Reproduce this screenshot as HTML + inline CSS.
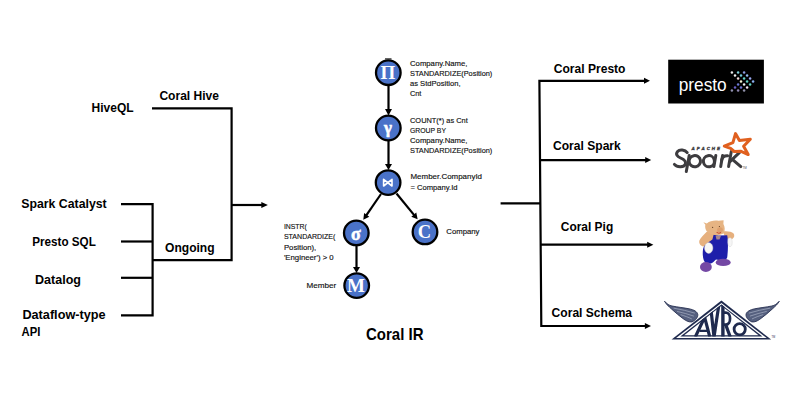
<!DOCTYPE html>
<html><head><meta charset="utf-8">
<style>
html,body{margin:0;padding:0;background:#fff;width:800px;height:400px;overflow:hidden}
svg{position:absolute;left:0;top:0;display:block}
.l{font-family:"Liberation Sans",sans-serif;font-weight:bold;font-size:13.5px;fill:#000}
.s{font-family:"Liberation Sans",sans-serif;font-size:7.8px;fill:#111;stroke:#111;stroke-width:0.15px}
.g{font-family:"Liberation Serif",serif;font-weight:bold;fill:#fff;text-anchor:middle}
</style></head>
<body>
<svg width="800" height="400" viewBox="0 0 800 400">
<defs>
<marker id="ah" markerWidth="6" markerHeight="6" refX="6" refY="3" orient="auto" markerUnits="userSpaceOnUse">
<path d="M0,0 L6,3 L0,6 z" fill="#000"/>
</marker>
</defs>
<rect width="800" height="400" fill="#fff"/>

<!-- left lines -->
<g stroke="#000" stroke-width="2.2" fill="none" stroke-linecap="butt">
<path d="M152,108.4 H231.6 V260.2 H152.6"/>
<path d="M121,204.2 H152.6 V315.3 H121"/>
<path d="M121,241.5 H152.6"/>
<path d="M121,277.8 H152.6"/>
<path d="M231.6,205 H262"/>
</g>
<path d="M261.3,201.9 L267.9,205 L261.3,208.1 z" fill="#000"/>

<!-- right lines -->
<g stroke="#000" stroke-width="2.2" fill="none">
<path d="M500.6,203.4 H540.2"/>
<path d="M645,80.8 H539.4 L541.3,326 H645"/>
<path d="M540,160.1 H646"/>
<path d="M540.6,244.7 H648"/>
</g>
<g fill="#000">
<path d="M644,77.8 L650,80.8 L644,83.8 z"/>
<path d="M645.2,157.1 L651.2,160.1 L645.2,163.1 z"/>
<path d="M647.2,241.7 L653.4,244.7 L647.2,247.7 z"/>
<path d="M644.9,323 L651,326 L644.9,329 z"/>
</g>

<!-- labels -->
<text class="l" x="91.6" y="111.6" textLength="42" lengthAdjust="spacingAndGlyphs">HiveQL</text>
<text class="l" x="159.4" y="100" textLength="59.6" lengthAdjust="spacingAndGlyphs">Coral Hive</text>
<text class="l" x="21.2" y="208.3" textLength="85.5" lengthAdjust="spacingAndGlyphs">Spark Catalyst</text>
<text class="l" x="32.2" y="245.8" textLength="63.6" lengthAdjust="spacingAndGlyphs">Presto SQL</text>
<text class="l" x="35" y="284.4" textLength="46" lengthAdjust="spacingAndGlyphs">Datalog</text>
<text class="l" x="22.4" y="319.4" textLength="83.2" lengthAdjust="spacingAndGlyphs">Dataflow-type</text>
<text class="l" x="21.6" y="336" textLength="18.8" lengthAdjust="spacingAndGlyphs">API</text>
<text class="l" x="165" y="252" textLength="49.6" lengthAdjust="spacingAndGlyphs">Ongoing</text>
<text class="l" x="553.75" y="73" textLength="71.75" lengthAdjust="spacingAndGlyphs">Coral Presto</text>
<text class="l" x="553" y="149.5" textLength="67.75" lengthAdjust="spacingAndGlyphs">Coral Spark</text>
<text class="l" x="560.8" y="230.8" textLength="52.4" lengthAdjust="spacingAndGlyphs">Coral Pig</text>
<text class="l" x="551.6" y="316.7" textLength="80.5" lengthAdjust="spacingAndGlyphs">Coral Schema</text>
<text class="l" x="366" y="339.7" style="font-size:16.2px" textLength="57.5" lengthAdjust="spacingAndGlyphs">Coral IR</text>

<!-- IR tree arrows -->
<g stroke="#000" stroke-width="2.2" fill="none">
<path d="M388.5,86 V110"/>
<path d="M388.5,141 V164.5"/>
<path d="M381.0,194.0 L366.1,215.7"/>
<path d="M396.5,193.5 L414.4,215.4"/>
<path d="M356.5,246 V267"/>
</g>
<g fill="#000">
<path d="M385,109 L392,109 L388.5,115.5 z"/>
<path d="M385,164 L392,164 L388.5,170 z"/>
<path d="M353,267 L360,267 L356.5,273 z"/>
<path d="M363.3,219.8 L364.1,213.0 L369.3,216.7 z"/>
<path d="M417.6,219.3 L411.3,216.7 L416.3,212.6 z"/>
</g>
<!-- circles -->
<rect x="385" y="58" width="6.5" height="1.6" fill="#666"/>
<g fill="#4a72c8" stroke="#000" stroke-width="2.3">
<circle cx="388.3" cy="72.7" r="12.3"/>
<circle cx="388.3" cy="128" r="12.3"/>
<circle cx="388.1" cy="182.6" r="12.3"/>
<circle cx="356.3" cy="232.9" r="12.3"/>
<circle cx="425" cy="231.9" r="12.3"/>
<circle cx="356.7" cy="285.6" r="12.3"/>
</g>
<text class="g" x="388" y="79" style="font-size:19px">Π</text>
<path d="M383.6,179.3 V186 L392,179.3 V186 z" fill="none" stroke="#fff" stroke-width="1.6" stroke-linejoin="round"/>
<text class="g" x="388" y="133.2" style="font-size:17px;stroke:#fff;stroke-width:0.6px">γ</text>
<text class="g" x="355.8" y="239.5" style="font-size:18px;stroke:#fff;stroke-width:0.5px">σ</text>
<text class="g" x="424.4" y="238" style="font-size:18.5px">C</text>
<text class="g" x="356" y="291.6" style="font-size:19px">M</text>

<!-- small text -->
<text class="s" x="410" y="65.8" textLength="57.4" lengthAdjust="spacingAndGlyphs">Company.Name,</text>
<text class="s" x="410" y="75.8" textLength="82.3" lengthAdjust="spacingAndGlyphs">STANDARDIZE(Position)</text>
<text class="s" x="410" y="85.9" textLength="50.6" lengthAdjust="spacingAndGlyphs">as StdPosition,</text>
<text class="s" x="410" y="95.9" textLength="11.4" lengthAdjust="spacingAndGlyphs">Cnt</text>
<text class="s" x="410" y="122.7" textLength="57.7" lengthAdjust="spacingAndGlyphs">COUNT(*) as Cnt</text>
<text class="s" x="410" y="132.8" textLength="36" lengthAdjust="spacingAndGlyphs">GROUP BY</text>
<text class="s" x="410" y="142.9" textLength="57.4" lengthAdjust="spacingAndGlyphs">Company.Name,</text>
<text class="s" x="410" y="153" textLength="82.3" lengthAdjust="spacingAndGlyphs">STANDARDIZE(Position)</text>
<text class="s" x="410.5" y="179.4" textLength="71.5" lengthAdjust="spacingAndGlyphs">Member.CompanyId</text>
<text class="s" x="410.5" y="189.6" textLength="47" lengthAdjust="spacingAndGlyphs">= Company.Id</text>
<text class="s" x="446.3" y="233.8" textLength="33.2" lengthAdjust="spacingAndGlyphs">Company</text>
<text class="s" x="283.9" y="228.9" textLength="22.9" lengthAdjust="spacingAndGlyphs">INSTR(</text>
<text class="s" x="283.9" y="239.4" textLength="51.5" lengthAdjust="spacingAndGlyphs">STANDARDIZE(</text>
<text class="s" x="283.9" y="249.8" textLength="32.4" lengthAdjust="spacingAndGlyphs">Position),</text>
<text class="s" x="283.9" y="259.8" textLength="49.8" lengthAdjust="spacingAndGlyphs">'Engineer') &gt; 0</text>
<text class="s" x="306.5" y="287.8" textLength="29.8" lengthAdjust="spacingAndGlyphs">Member</text>

<!-- presto logo -->
<rect x="668.2" y="59.7" width="95.7" height="43.8" fill="#000"/>
<text x="678.7" y="90.8" style="font-family:'Liberation Sans',sans-serif;font-size:18.5px;fill:#fff" textLength="48" lengthAdjust="spacingAndGlyphs">presto</text>

<g><circle cx="731.9" cy="72.5" r="1.25" fill="#e8e8e8"/><circle cx="738.1" cy="72.5" r="1.25" fill="#7fd0d8"/><circle cx="744.1" cy="72.5" r="1.25" fill="#8a9ae0"/><circle cx="735" cy="75.5" r="1.25" fill="#f0f0f0"/><circle cx="741" cy="75.5" r="1.25" fill="#70c8d8"/><circle cx="747.1" cy="75.5" r="1.25" fill="#90b8f0"/><circle cx="738.1" cy="78.5" r="1.25" fill="#f0d8d8"/><circle cx="744.1" cy="78.5" r="1.25" fill="#60d0c8"/><circle cx="750.1" cy="78.5" r="1.25" fill="#9aa8f0"/><circle cx="741" cy="81.4" r="1.25" fill="#f0f0d0"/><circle cx="747.1" cy="81.4" r="1.25" fill="#60d0c0"/><circle cx="753.1" cy="81.4" r="1.25" fill="#8ab0f0"/><circle cx="738.1" cy="84.4" r="1.25" fill="#6a78d0"/><circle cx="744.1" cy="84.4" r="1.25" fill="#f0f0f0"/><circle cx="750.1" cy="84.4" r="1.25" fill="#60d0c0"/><circle cx="735" cy="87.4" r="1.25" fill="#6a60c8"/><circle cx="741" cy="87.4" r="1.25" fill="#6a70d0"/><circle cx="747.1" cy="87.4" r="1.25" fill="#f0e0f0"/><circle cx="731.9" cy="90.4" r="1.25" fill="#9090b0"/><circle cx="738.1" cy="90.4" r="1.25" fill="#9088b0"/><circle cx="744.1" cy="90.4" r="1.25" fill="#9090a8"/></g>

<!-- spark logo -->
<g>
<g fill="none" stroke="#3d3c3f" stroke-width="3" stroke-linecap="round">
<path d="M687.2,152.6 C685,149.6 679.6,149.2 677.6,151.4 C675.2,154.2 677.4,156.6 680.6,158 C684.4,159.6 686.2,161.4 685.4,164 C684.4,167.4 677.2,167.8 674.4,164.4"/>
<path d="M689.2,155.6 L686.3,171.4"/>
<ellipse cx="694.8" cy="161.2" rx="5.7" ry="5.6" transform="rotate(-10 694.8 161.2)"/>
<ellipse cx="708.9" cy="161.2" rx="5.5" ry="5.6" transform="rotate(-10 708.9 161.2)"/>
<path d="M715.8,155.6 L713.9,166.4"/>
<path d="M722.6,155.6 L720.7,166.4"/>
<path d="M721.6,160.2 C722.6,156.6 725,155.6 727.6,155.8"/>
<path d="M731.3,151.4 L728.6,166.4"/>
<path d="M730.2,161.4 L739.6,152.4"/>
<path d="M732.6,159.6 L740.8,166.6"/>
</g>
<text x="691.6" y="150.4" style="font-family:'Liberation Sans',sans-serif;font-weight:bold;font-style:italic;font-size:4.4px;fill:#3d3c3f;stroke:#3d3c3f;stroke-width:0.35px" textLength="28.4" lengthAdjust="spacing">APACHE</text>
<path d="M735.5,133.6 L739.4,140.6 L750.3,139.2 L743.6,146.3 L748.2,154.6 L740.6,151.2 L734.2,151.5 L730.6,148.4 L724.3,146.1 L732.9,142.6 Z" fill="none" stroke="#e0601f" stroke-width="3" stroke-linejoin="round"/>
<text x="742.5" y="168.5" style="font-family:'Liberation Sans',sans-serif;font-size:3px;fill:#555">TM</text>
</g>

<!-- pig -->
<g>
<path d="M722.5,231.6 C726.5,231 731.5,231.4 733.6,233.6 C735,235.6 734,238.2 731.8,239.2 L726,238.5 Z" fill="#e6b07e"/>
<path d="M707,231.5 C704,234.5 700.8,237.5 699.4,240.5 C698.6,243.5 700.6,246 703.6,246.6 L707.5,244.5 L713.2,240 L715,234.2 Z" fill="#e6b07e"/>
<path d="M713.6,234.8 L718.5,235.6 L727.2,235.2 C728.2,240 728.2,250 727.2,257.5 C726.3,260 724,261 721.5,260.5 L716,259.5 C714.5,261 713,262.5 711,263.5 L706.5,263.8 C704,262 703,259 702.8,255 C702.6,251 703,248 704.2,246 L708.5,242.2 L712.4,239.5 Z" fill="#1e1eaa"/>
<path d="M715.5,235.5 L721,235.8 L719.5,239.5 L716.5,239.5 Z" fill="#e0b080" opacity="0.7"/>
<path d="M703.4,222.2 L706.8,223.4 C710,220.8 714.5,220.2 718.4,220.8 L723.6,220.2 L723.4,224 C725,226.6 725.2,230.6 723.8,233 C721.5,235 717.5,235.5 714.2,234.8 C710.5,234.2 707.6,232.8 706.2,230.4 C705,228 705,226 705.4,224.8 Z" fill="#e6b483"/>
<ellipse cx="720" cy="229.8" rx="2.9" ry="2.6" fill="#dda06e"/>
<path d="M716.6,232 C717.8,233.4 719.6,233.5 721,232.4" stroke="#c84a2a" stroke-width="1.1" fill="none"/>
<circle cx="712.6" cy="227.3" r="0.65" fill="#5a3a20"/>
<circle cx="719.4" cy="226.5" r="0.6" fill="#5a3a20"/>
<ellipse cx="708.7" cy="248" rx="4.2" ry="5.4" fill="#f6f6f6" stroke="#cfcfcf" stroke-width="0.4"/>
<ellipse cx="730" cy="242.2" rx="2.2" ry="4.4" fill="#f6f6f6" stroke="#cfcfcf" stroke-width="0.4"/>
<ellipse cx="705.9" cy="267" rx="5.9" ry="5" fill="#7448a4"/>
<ellipse cx="723.2" cy="262.4" rx="7.5" ry="3.7" fill="#7448a4"/>
</g>

<!-- avro -->
<defs><clipPath id="tri"><polygon points="721.40,304.41 680.30,336.60 762.50,336.60"/></clipPath></defs>
<g>
<path id="wingL" d="M664.5,301.2 C667,304 669,305.4 672,306 C678,307.2 684,307.8 689,308.8 C694,309.8 697.4,311.6 697.8,314.6 C698,317.5 695.5,320.3 692,321.9 C689,322.3 686.5,321 684,319.3 C679.5,316.2 675.5,312.6 671.5,309 C668.5,306.3 666,304 664.5,301.2 Z" fill="#56607f" stroke="#283152" stroke-width="0.9"/>
<g stroke="#a3abc0" stroke-width="0.75" fill="none" stroke-linecap="round">
<path d="M674,308.2 C681,309.5 688,311 694.5,313"/>
<path d="M677.5,311.5 C683,312.8 688.5,314.2 693.5,316"/>
<path d="M681,314.8 C685,316 688.5,317.3 691.5,318.8"/>
</g>
<g transform="translate(1443.8,0) scale(-1,1)">
<path d="M664.5,301.2 C667,304 669,305.4 672,306 C678,307.2 684,307.8 689,308.8 C694,309.8 697.4,311.6 697.8,314.6 C698,317.5 695.5,320.3 692,321.9 C689,322.3 686.5,321 684,319.3 C679.5,316.2 675.5,312.6 671.5,309 C668.5,306.3 666,304 664.5,301.2 Z" fill="#56607f" stroke="#283152" stroke-width="0.9"/>
<g stroke="#a3abc0" stroke-width="0.75" fill="none" stroke-linecap="round">
<path d="M674,308.2 C681,309.5 688,311 694.5,313"/>
<path d="M677.5,311.5 C683,312.8 688.5,314.2 693.5,316"/>
<path d="M681,314.8 C685,316 688.5,317.3 691.5,318.8"/>
</g>
</g>
<polygon points="721.40,300.60 671.60,339.60 771.20,339.60" fill="#1f2a4e"/>
<polygon points="721.40,303.10 676.10,338.00 766.70,338.00" fill="#fff"/>
<polygon points="721.40,304.41 680.30,336.60 762.50,336.60" fill="#1f2a4e"/>
<polygon points="721.40,305.80 684.20,335.30 758.60,335.30" fill="#fff"/>
<g clip-path="url(#tri)" stroke="#1f2a4e" fill="none">
<path d="M695.3,337 L704.6,317.2 L709.8,337" stroke-width="3.2"/>
<path d="M699.5,330.8 H707.8" stroke-width="2.2"/>
<path d="M710.6,306 L714,337 L719.6,300" stroke-width="3.2" stroke-linejoin="miter"/>
<path d="M722.9,300 V337" stroke-width="3.4"/>
<path d="M722.9,312.6 H726 C731.4,312.6 731.4,324.6 726,324.6 H722.9" stroke-width="2.7"/>
<path d="M725.6,324.4 L730.3,337" stroke-width="3.2"/>
<circle cx="739.7" cy="329.3" r="5.6" stroke-width="2.8"/>
</g>
<text x="771.5" y="338" style="font-family:'Liberation Sans',sans-serif;font-size:2.6px;fill:#1f2a4e">TM</text>
</g>
</svg>
</body></html>
